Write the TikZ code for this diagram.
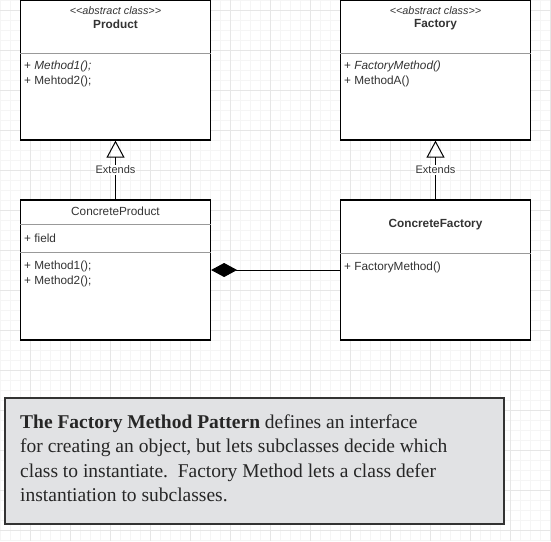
\documentclass[tikz,border=0pt]{standalone}
\usepackage{fontspec}
\setmainfont{Liberation Sans}
\newfontfamily\serifbox{Liberation Serif}
\usetikzlibrary{arrows.meta}
\definecolor{gridmajor}{HTML}{E6E6E6}
\definecolor{gridminor}{HTML}{F5F5F5}
\definecolor{txt}{HTML}{333333}
\definecolor{notefill}{HTML}{E1E2E4}
\begin{document}
\begin{tikzpicture}[x=1pt,y=-1pt,
  classbox/.style={draw=black,line width=1.2pt,fill=white,minimum width=190pt,minimum height=140pt,inner sep=0pt},
  divider/.style={draw=gray!80,line width=0.8pt},
  member/.style={anchor=west,inner sep=0pt,font=\fontsize{11.8}{13}\selectfont,text=txt},
  titletext/.style={inner sep=0pt,font=\fontsize{11.8}{13}\selectfont,text=txt},
  stereo/.style={inner sep=0pt,font=\fontsize{10.8}{12}\itshape\selectfont,text=txt},
  conn/.style={draw=black,line width=1pt},
  lbl/.style={fill=white,inner sep=1pt,font=\fontsize{11}{12}\selectfont,text=txt},
  noteline/.style={anchor=base west,inner sep=0pt,text=black!85,font=\serifbox\fontsize{19.5}{24}\selectfont}]
\useasboundingbox (0,0) rectangle (551,541);
\fill[white] (0,0) rectangle (551,541);
\foreach \i in {0,10,...,550} \draw[gridminor,line width=0.6pt] (\i,0) -- (\i,541);
\foreach \j in {0,10,...,540} \draw[gridminor,line width=0.6pt] (0,\j) -- (551,\j);
\foreach \i in {30,70,...,550} \draw[gridmajor,line width=0.7pt] (\i,0) -- (\i,541);
\foreach \j in {10,50,...,540} \draw[gridmajor,line width=0.7pt] (0,\j) -- (551,\j);

% Product
\node[classbox] (prod) at (115.5,70) {};
\draw[divider] (prod.west |- 0,53) -- (prod.east |- 0,53);
\node[stereo] (prodst) at (115.5,11) {{<}{<}abstract class{>}{>}};
\node[titletext,font=\fontsize{11.8}{13}\bfseries\selectfont] (prodt) at (115.5,24.5) {Product};
\node[member] (prodm1) at (24,66) {+ \textit{Method1();}};
\node[member] (prodm2) at (24,81) {+ Mehtod2();};

% Factory
\node[classbox] (fac) at (435.5,70) {};
\draw[divider] (fac.west |- 0,53) -- (fac.east |- 0,53);
\node[stereo] (facst) at (435.5,11) {{<}{<}abstract class{>}{>}};
\node[titletext,font=\fontsize{11.8}{13}\bfseries\selectfont] (fact) at (435.5,24.5) {Factory};
\node[member] (facm1) at (344,66) {+ \textit{FactoryMethod()}};
\node[member] (facm2) at (344,81) {+ MethodA()};

% ConcreteProduct
\node[classbox] (cp) at (115.5,270) {};
\draw[divider] (cp.west |- 0,224) -- (cp.east |- 0,224);
\draw[divider] (cp.west |- 0,252) -- (cp.east |- 0,252);
\node[titletext] (cpt) at (115.5,211) {ConcreteProduct};
\node[member] (cpf) at (24,238) {+ field};
\node[member] (cpm1) at (24,266) {+ Method1();};
\node[member] (cpm2) at (24,281) {+ Method2();};

% ConcreteFactory
\node[classbox] (cf) at (435.5,270) {};
\draw[divider] (cf.west |- 0,253) -- (cf.east |- 0,253);
\node[titletext,font=\fontsize{11.8}{13}\bfseries\selectfont] (cft) at (435.5,225) {ConcreteFactory};
\node[member] (cfm) at (344,267.5) {+ FactoryMethod()};

% connectors
\draw[conn,-{Triangle[open,length=17pt,width=18pt,line width=1pt]}] (cp.north) -- node[lbl,pos=0.5] (ext1) {Extends} (prod.south);
\draw[conn,-{Triangle[open,length=17pt,width=18pt,line width=1pt]}] (cf.north) -- node[lbl,pos=0.5] (ext2) {Extends} (fac.south);
\draw[conn,{Diamond[length=26pt,width=14pt]}-] (cp.east) -- (cf.west);

% note
\node[draw=txt,line width=2pt,fill=notefill,minimum width=499pt,minimum height=126pt,inner sep=0pt] (note) at (254.5,461) {};
\node[noteline] (n1) at (20,428) {\textbf{The Factory Method Pattern} defines an interface};
\node[noteline] (n2) at (20,452.5) {for creating an object, but lets subclasses decide which};
\node[noteline] (n3) at (20,477) {class to instantiate.\ \ Factory Method lets a class defer};
\node[noteline] (n4) at (20,501.5) {instantiation to subclasses.};
\end{tikzpicture}
\end{document}
